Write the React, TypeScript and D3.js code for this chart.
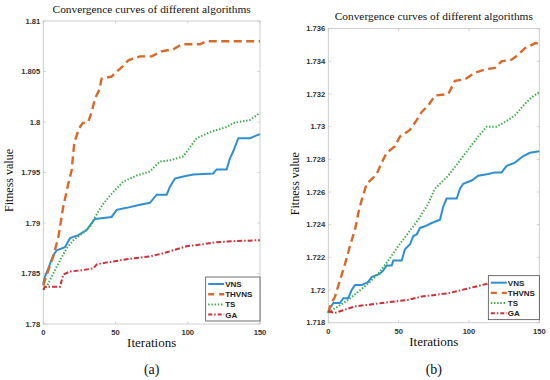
import React from 'react'
import * as d3 from 'd3'

type Pt = [number, number]

// panel (a) — iteration, fitness
const vnsA: Pt[] = [[0,1.7840],[1.2,1.7847],[3.5,1.7855],[6.9,1.7868],[9.3,1.7873],[15,1.7876],[18.5,1.7885],[24.2,1.7888],[30,1.7893],[33.5,1.79],[35.8,1.7904],[41.5,1.7905],[47.3,1.7906],[50.8,1.7913],[57.7,1.7915],[66.9,1.7918],[73.8,1.792],[78.5,1.7928],[85.4,1.7928],[87.7,1.7936],[91.1,1.7944],[96.9,1.7946],[103.8,1.7948],[117.6,1.7949],[120,1.7953],[126.9,1.7953],[129.2,1.7964],[131.5,1.7971],[135,1.7984],[143,1.7984],[150,1.7988]]
const thvnsA: Pt[] = [[0,1.7838],[1.2,1.7844],[6.9,1.7867],[10.4,1.7886],[13.8,1.7916],[17.3,1.7939],[19.6,1.7952],[21.5,1.798],[24.9,1.7994],[27.3,1.7999],[31.1,1.8],[33.5,1.801],[35.8,1.8023],[38.8,1.8032],[40.4,1.8043],[47.3,1.8045],[50.8,1.805],[54.2,1.8054],[58.8,1.8061],[66.9,1.8065],[75,1.8065],[81.9,1.807],[90,1.8072],[95.8,1.8077],[108.4,1.8077],[113,1.808],[150,1.808]]
const tsA: Pt[] = [[0,1.7834],[2.3,1.7837],[6.9,1.785],[11.6,1.7863],[16.2,1.7875],[20.8,1.7883],[25.4,1.7888],[32.3,1.7896],[35.8,1.7906],[41.5,1.7919],[47.3,1.7929],[55.4,1.7941],[64.6,1.7947],[73.8,1.7951],[80.8,1.7961],[87.7,1.7962],[96.9,1.7966],[106.2,1.7984],[115.4,1.799],[126.9,1.7995],[131.5,1.7999],[143,1.8002],[150,1.8009]]
const gaA: Pt[] = [[0,1.7834],[1.2,1.7837],[11.6,1.7837],[13.8,1.7849],[18.5,1.7852],[25.4,1.7853],[34.6,1.7855],[37,1.7859],[43.9,1.7861],[53.1,1.7863],[62.3,1.7865],[73.8,1.7867],[83,1.787],[92.3,1.7874],[99.2,1.7877],[110.7,1.7879],[120,1.7881],[131.5,1.7882],[150,1.7883]]

// panel (b)
const vnsB: Pt[] = [[0,1.7186],[1.2,1.7189],[3.6,1.7192],[8.3,1.7192],[10.7,1.7195],[14.2,1.7195],[16.6,1.72],[19,1.7203],[23.7,1.7203],[28.4,1.7205],[30.8,1.7208],[36.7,1.721],[39.1,1.7212],[41.5,1.7215],[45.1,1.7215],[46.2,1.7218],[52.2,1.7218],[54.5,1.7225],[58.1,1.7228],[60.4,1.7233],[62.8,1.7234],[65.2,1.7238],[68.7,1.7239],[73.5,1.7241],[79.4,1.7243],[81.7,1.7251],[84.1,1.7256],[91.3,1.7256],[93.6,1.7262],[95.9,1.7265],[101.9,1.7267],[106.6,1.727],[113.7,1.7271],[118.5,1.7272],[123.2,1.7272],[126.8,1.7276],[132.7,1.7278],[138.6,1.7282],[143.4,1.7284],[150,1.7285]]
const thvnsB: Pt[] = [[0,1.7186],[1.2,1.719],[4.8,1.7196],[8.3,1.7206],[11.9,1.7216],[15.4,1.7227],[19,1.7237],[21.3,1.7247],[23.7,1.7255],[27.3,1.7265],[31,1.7268],[34.4,1.7271],[38,1.7278],[41.5,1.7284],[47.4,1.7288],[51,1.7294],[58.1,1.7298],[62.8,1.7304],[66.4,1.7309],[71.1,1.7313],[75.8,1.7319],[85.3,1.732],[90,1.7328],[97.2,1.7329],[104.3,1.7333],[111.4,1.7335],[118.5,1.7336],[123.2,1.734],[130.3,1.7341],[135,1.7344],[139.8,1.7348],[146.9,1.7351],[150,1.7351]]
const tsB: Pt[] = [[0,1.7186],[1.2,1.7187],[7.1,1.719],[14.2,1.7194],[21.3,1.7199],[28.4,1.7204],[35.5,1.721],[42.6,1.7218],[49.8,1.7227],[56.9,1.7235],[64,1.7243],[71.1,1.7253],[75.8,1.7262],[85.3,1.727],[92.4,1.7278],[99.5,1.7286],[106.6,1.7294],[112.6,1.73],[119.7,1.73],[127.9,1.7304],[132.7,1.7307],[139.8,1.7314],[144.6,1.7318],[150,1.7321]]
const gaB: Pt[] = [[0,1.7187],[4.8,1.7186],[11.9,1.7188],[19,1.719],[28.4,1.7191],[38,1.7192],[47.4,1.7193],[56.9,1.7194],[66.4,1.7196],[75.8,1.7197],[85.3,1.7198],[94.8,1.72],[104.3,1.7202],[113.7,1.7204],[123.2,1.7205],[132.7,1.7206],[142.1,1.7207],[150,1.7207]]

const seriesNames = ['VNS', 'THVNS', 'TS', 'GA']
const xTicks = [0, 50, 100, 150]
const yTicksA = [1.78, 1.785, 1.79, 1.795, 1.8, 1.805, 1.81]
const yTicksB = [1.718, 1.72, 1.722, 1.724, 1.726, 1.728, 1.73, 1.732, 1.734, 1.736]

const styles = [
  { color: '#2f8fd0', width: 2, dash: undefined as string | undefined },
  { color: '#d9692a', width: 2.4, dash: '8,4.5' },
  { color: '#3aab45', width: 2, dash: '1.4,1.8' },
  { color: '#cf2f38', width: 2, dash: '5,2,1.5,2' },
]
const legendDash = [undefined, '6,5', '1.4,1.8', '4,2,1.5,2']

const TITLE = 'Convergence curves of different algorithms'
const SERIF = "'Liberation Serif', 'Times New Roman', serif"
const SANS = "'Liberation Sans', Arial, sans-serif"

function Panel(props: {
  left: number; right: number; top: number; bottom: number
  yDomain: [number, number]; yTicks: number[]; series: Pt[][]
  titleY: number; yLabelX: number; label: string; legendLeft: number
}) {
  const { left, right, top, bottom, yDomain, yTicks, series } = props
  const x = d3.scaleLinear().domain([0, 150]).range([left, right])
  const y = d3.scaleLinear().domain(yDomain).range([bottom, top])
  const line = d3.line<Pt>().x(d => x(d[0])).y(d => y(d[1]))
  const cx = (left + right) / 2
  const fmt = d3.format('')
  const lg = { x: props.legendLeft, y: bottom - 47, w: right - props.legendLeft, h: 44 }
  return (
    <g>
      <text x={cx} y={props.titleY} textAnchor="middle" fontFamily={SERIF} fontSize={11.4} fill="#111">{TITLE}</text>
      <rect x={left} y={top} width={right - left} height={bottom - top} fill="#fff" stroke="#c4c4c4" strokeWidth={0.8} />
      {xTicks.map(t => (
        <g key={'x' + t}>
          <line x1={x(t)} x2={x(t)} y1={bottom} y2={bottom - 2.5} stroke="#c4c4c4" strokeWidth={0.8} />
          <line x1={x(t)} x2={x(t)} y1={top} y2={top + 2.5} stroke="#c4c4c4" strokeWidth={0.8} />
          <text x={x(t)} y={bottom + 11} textAnchor="middle" fontFamily={SANS} fontWeight="bold" fontSize={7.6} fill="#333">{fmt(t)}</text>
        </g>
      ))}
      {yTicks.map(t => (
        <g key={'y' + t}>
          <line x1={left} x2={left + 2.5} y1={y(t)} y2={y(t)} stroke="#c4c4c4" strokeWidth={0.8} />
          <line x1={right} x2={right - 2.5} y1={y(t)} y2={y(t)} stroke="#c4c4c4" strokeWidth={0.8} />
          <text x={left - 3} y={y(t) + 2.7} textAnchor="end" fontFamily={SANS} fontWeight="bold" fontSize={7.6} fill="#333">{fmt(+t.toFixed(3))}</text>
        </g>
      ))}
      {series.map((s, i) => (
        <path key={i} d={line(s) ?? ''} fill="none" stroke={styles[i].color} strokeWidth={styles[i].width} strokeDasharray={styles[i].dash} />
      ))}
      <text x={cx} y={bottom + 23} textAnchor="middle" fontFamily={SERIF} fontSize={13} fill="#111">Iterations</text>
      <text transform={`translate(${props.yLabelX},${(top + bottom) / 2 + 8}) rotate(-90)`} textAnchor="middle" fontFamily={SERIF} fontSize={12} fill="#111">Fitness value</text>
      <text x={cx} y={374} textAnchor="middle" fontFamily={SERIF} fontSize={14} fill="#111">{props.label}</text>
      <g>
        <rect x={lg.x} y={lg.y} width={lg.w} height={lg.h} fill="#fff" stroke="#333" strokeWidth={0.7} />
        {seriesNames.map((n, i) => {
          const yy = lg.y + 7 + i * 10.2
          return (
            <g key={n}>
              <line x1={lg.x + 2.5} x2={lg.x + 18.5} y1={yy} y2={yy} stroke={styles[i].color} strokeWidth={styles[i].width} strokeDasharray={legendDash[i]} />
              <text x={lg.x + 19.5} y={yy + 3} fontFamily={SANS} fontWeight="bold" fontSize={8} fill="#222">{n}</text>
            </g>
          )
        })}
      </g>
    </g>
  )
}

export default function App() {
  return (
    <svg width={550} height={380} style={{ position: 'absolute', left: 0, top: 0, background: '#fff' }}>
      <Panel left={43.3} right={260} top={21} bottom={324} yDomain={[1.78, 1.81]} yTicks={yTicksA}
        series={[vnsA, thvnsA, tsA, gaA]} titleY={12.5} yLabelX={13} label="(a)" legendLeft={205.7} />
      <Panel left={328.3} right={539.3} top={28.6} bottom={322.7} yDomain={[1.718, 1.736]} yTicks={yTicksB}
        series={[vnsB, thvnsB, tsB, gaB]} titleY={19.5} yLabelX={299} label="(b)" legendLeft={488.3} />
    </svg>
  )
}
